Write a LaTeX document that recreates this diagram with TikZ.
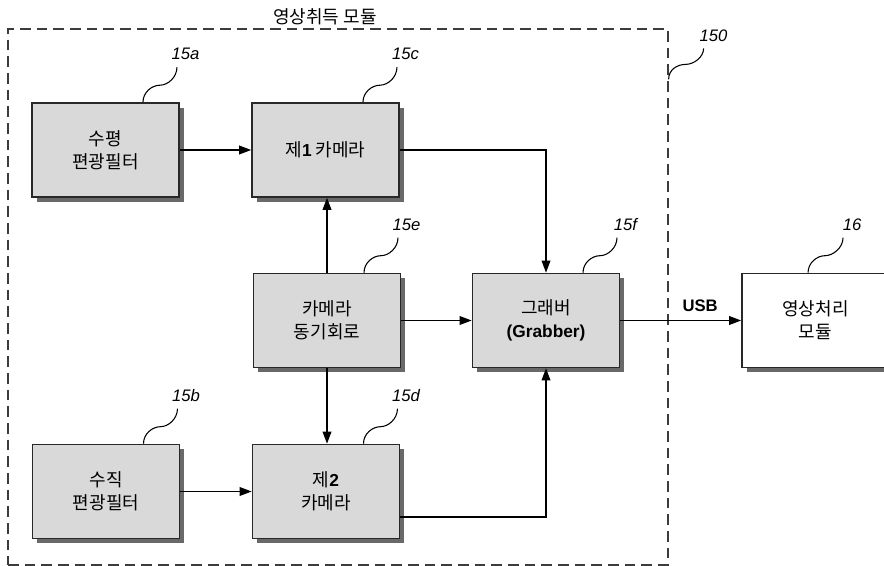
\documentclass[tikz,border=0pt]{standalone}
\usepackage{fontspec}
\setmainfont{Liberation Sans}
\newfontfamily\kr{Noto Sans CJK KR}
\usetikzlibrary{arrows.meta,shadows,calc}
\definecolor{boxfill}{RGB}{217,217,217}
\definecolor{boxline}{RGB}{40,40,40}
\definecolor{shadegray}{RGB}{105,105,105}
\definecolor{dashc}{RGB}{60,60,60}
\newcommand\latb[1]{{\rmfamily\bfseries\fontsize{13}{17.25}\selectfont #1}}
\begin{document}
\begin{tikzpicture}[x=0.75pt,y=-0.75pt,
  blk/.style={draw=boxline, line width=1.2pt, fill=boxfill,
    minimum width=110.25pt, minimum height=70.5pt, inner sep=0pt,
    align=center, font=\kr\fontsize{13.5}{17.25}\selectfont,
    drop shadow={shadow xshift=3.5pt, shadow yshift=-3.5pt, fill=shadegray, opacity=1}},
  conn/.style={line width=1pt, draw=black, -{Triangle[length=9pt,width=6.5pt]}},
  leader/.style={line width=0.8pt, draw=black},
  lbl/.style={font=\itshape\fontsize{12.5}{15}\selectfont, inner sep=0pt},
  dashbox/.style={draw=dashc, line width=0.9pt, dash pattern=on 8pt off 4.5pt,
    minimum width=495pt, minimum height=402pt, inner sep=0pt}
]
\useasboundingbox (0,0) rectangle (884,566);
\clip (0,0) rectangle (884,566);

% module frame
\node[dashbox] (mod) at (338,297) {};
\node[font=\kr\fontsize{13.5}{15}\selectfont] (title) at (325,17) {영상취득 모듈};

% blocks
\node[blk] (a) at (105.5,150) {수평\\편광필터};
\node[blk] (c) at (325.5,150) {제\latb{1} 카메라};
\node[blk] (e) at (327,320.5) {카메라\\동기회로};
\node[blk] (f) at (546,320.5) {그래버\\\latb{(Grabber)}};
\node[blk, fill=white] (g) at (815.5,320.5) {영상처리\\모듈};
\node[blk] (b) at (106,491.5) {수직\\편광필터};
\node[blk] (d) at (326,491.5) {제\latb{2}\\카메라};

% connectors
\draw[conn] (a.east) -- (c.west);
\draw[conn] (c.east) -| (f.north);
\draw[conn] (e.north) -- (e.north |- c.south);
\draw[conn] (e.east) -- (f.west);
\draw[conn] (e.south) -- (e.south |- d.north);
\draw[conn] (b.east) -- (d.west);
\draw[conn] ([yshift=-19pt]d.east) -| (f.south);
\draw[conn] (f.east) -- node[pos=0.66, above=3pt, font=\bfseries\fontsize{12.5}{15}\selectfont] (usb) {USB} (g.west);

% reference leaders
\draw[leader] ([xshift=28.1pt]a.north) .. controls +(0,-10) and +(-8,0) .. ++(17,-17) .. controls +(8,0) and +(0,10) .. ++(17,-18) coordinate (ta);
\node[lbl] (la) at ([shift={(8.5,-13)}]ta) {15a};
\draw[leader] ([xshift=28.1pt]c.north) .. controls +(0,-10) and +(-8,0) .. ++(17,-17) .. controls +(8,0) and +(0,10) .. ++(17,-18) coordinate (tc);
\node[lbl] (lc) at ([shift={(8.5,-13)}]tc) {15c};
\draw[leader] ([xshift=27.75pt]e.north) .. controls +(0,-10) and +(-8,0) .. ++(17,-17) .. controls +(8,0) and +(0,10) .. ++(17,-18) coordinate (te);
\node[lbl] (le) at ([shift={(8.5,-13)}]te) {15e};
\draw[leader] ([xshift=27.75pt]f.north) .. controls +(0,-10) and +(-8,0) .. ++(17,-17) .. controls +(8,0) and +(0,10) .. ++(17,-18) coordinate (tf);
\node[lbl] (lf) at ([shift={(8.5,-13)}]tf) {15f};
\draw[leader] ([xshift=-5.6pt]g.north) .. controls +(0,-10) and +(-8,0) .. ++(17,-17) .. controls +(8,0) and +(0,10) .. ++(18,-18) coordinate (tg);
\node[lbl] (lg) at ([shift={(9,-13)}]tg) {16};
\draw[leader] ([xshift=28.1pt]b.north) .. controls +(0,-10) and +(-8,0) .. ++(17,-17) .. controls +(8,0) and +(0,10) .. ++(17,-18) coordinate (tb);
\node[lbl] (lb) at ([shift={(8.5,-13)}]tb) {15b};
\draw[leader] ([xshift=28.1pt]d.north) .. controls +(0,-10) and +(-8,0) .. ++(17,-17) .. controls +(8,0) and +(0,10) .. ++(17,-18) coordinate (td);
\node[lbl] (ld) at ([shift={(8.5,-13)}]td) {15d};
\draw[leader] ([yshift=-38.25pt]mod.north east) .. controls +(0,-10) and +(-8,0) .. ++(17,-15) .. controls +(8,0) and +(0,9) .. ++(18,-16) coordinate (tm);
\node[lbl] (lm) at ([shift={(10,-13)}]tm) {150};
\end{tikzpicture}
\end{document}
